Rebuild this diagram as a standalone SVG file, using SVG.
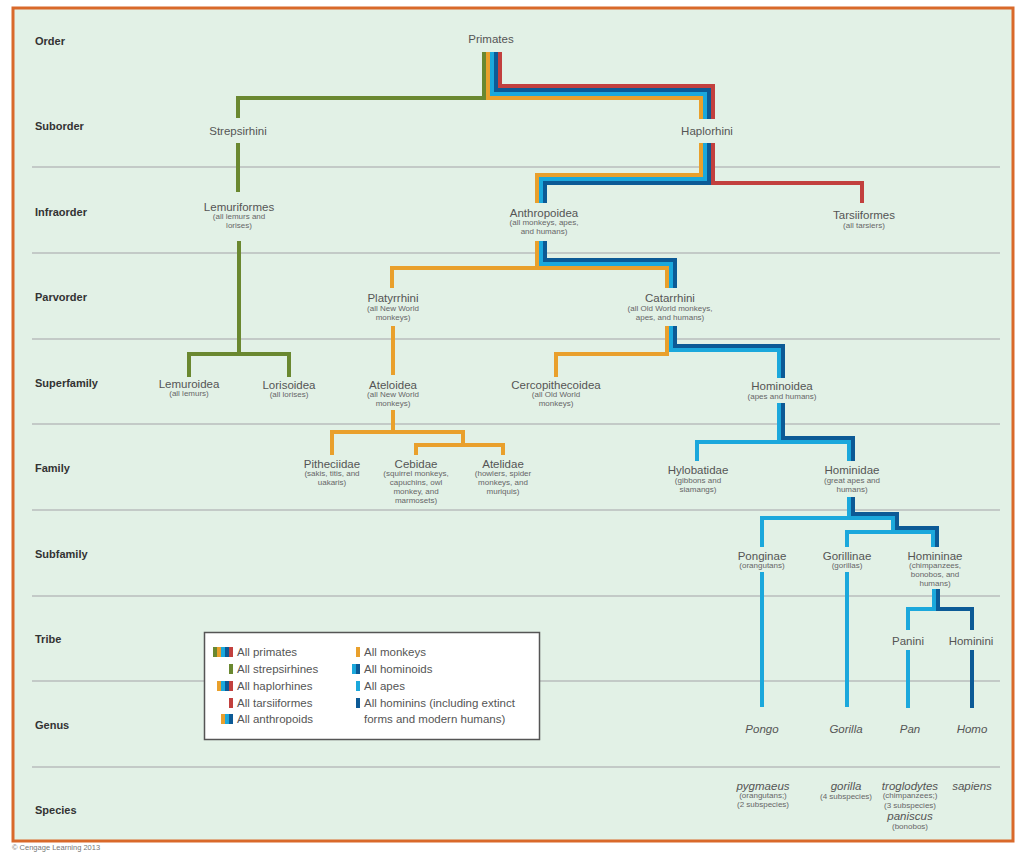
<svg xmlns="http://www.w3.org/2000/svg" width="1024" height="852" viewBox="0 0 1024 852">
<style>
text{font-family:"Liberation Sans",Arial,sans-serif;fill:#555}
.row{font-weight:bold;font-size:11px;fill:#333}
.n{font-size:11.5px;text-anchor:middle}
.s{font-size:8px;text-anchor:middle;fill:#666}
.i{font-size:11.5px;font-style:italic;text-anchor:middle}
.lg{font-size:11.5px;fill:#555}
.sep{stroke:#b9bdbd;stroke-width:1.5}
.c{fill:none;stroke-width:4;stroke-linejoin:miter;stroke-linecap:butt}
.g{stroke:#6a8830}.o{stroke:#e9a02c}.lb{stroke:#1ba8dc}.db{stroke:#0c5a96}.r{stroke:#c2403e}
</style>
<rect x="0" y="0" width="1024" height="852" fill="#fff"/>
<rect x="13" y="8" width="1000" height="833" fill="#e2f1e6" stroke="#d9692a" stroke-width="3"/>
<g id="separators">
<line class="sep" x1="32" y1="167" x2="1000" y2="167"/>
<line class="sep" x1="32" y1="253" x2="1000" y2="253"/>
<line class="sep" x1="32" y1="339" x2="1000" y2="339"/>
<line class="sep" x1="32" y1="424" x2="1000" y2="424"/>
<line class="sep" x1="32" y1="510" x2="1000" y2="510"/>
<line class="sep" x1="32" y1="596" x2="1000" y2="596"/>
<line class="sep" x1="32" y1="681" x2="1000" y2="681"/>
<line class="sep" x1="32" y1="767" x2="1000" y2="767"/>
</g>
<g id="rows">
<text class="row" x="35" y="45">Order</text>
<text class="row" x="35" y="130">Suborder</text>
<text class="row" x="35" y="216">Infraorder</text>
<text class="row" x="35" y="301">Parvorder</text>
<text class="row" x="35" y="387">Superfamily</text>
<text class="row" x="35" y="472">Family</text>
<text class="row" x="35" y="558">Subfamily</text>
<text class="row" x="35" y="643">Tribe</text>
<text class="row" x="35" y="729">Genus</text>
<text class="row" x="35" y="814">Species</text>
</g>
<g id="connectors">
<path class="c g" d="M484,52V98H238V118"/>
<path class="c o" d="M488,52V98H701V119"/>
<path class="c lb" d="M492,52V94H705V119"/>
<path class="c db" d="M496,52V90H709V119"/>
<path class="c r" d="M500,52V86H713V119"/>
<path class="c o" d="M701,143V175H537V203"/>
<path class="c lb" d="M705,143V179H541V203"/>
<path class="c db" d="M709,143V183H545V203"/>
<path class="c r" d="M713,143V183H862V203"/>
<path class="c o" d="M537,241V268M392,288V268H667V288"/>
<path class="c lb" d="M541,241V264H671V288"/>
<path class="c db" d="M545,241V260H675V288"/>
<path class="c o" d="M667,326V354H556V377"/>
<path class="c lb" d="M671,326V350H779V378"/>
<path class="c db" d="M675,326V346H783V378"/>
<path class="c g" d="M238,143V192M239,241V354M189,377V354H289V377"/>
<path class="c o" d="M393,326V375M393,410V432M332,455V432H463V445M416,455V445H503V455"/>
<path class="c lb" d="M779,403V442H697V461M779,442H849V461"/>
<path class="c db" d="M783,403V438H853V461"/>
<path class="c lb" d="M849,497V518H762V547M849,518H893V532M847,547V532H933V547"/>
<path class="c db" d="M853,497V514H897V528H937V547"/>
<path class="c lb" d="M762,572V707M847,572V707"/>
<path class="c lb" d="M934,589V609H908V630"/>
<path class="c db" d="M938,589V609H972V630"/>
<path class="c lb" d="M908,650V708"/>
<path class="c db" d="M972,650V708"/>
</g>
<g id="primates"><text class="n" x="491" y="43">Primates</text></g>
<g id="strepsirhini"><text class="n" x="238" y="135">Strepsirhini</text></g>
<g id="haplorhini"><text class="n" x="707" y="135">Haplorhini</text></g>
<g id="lemuriformes"><text class="n" x="239" y="211">Lemuriformes</text><text class="s" x="239" y="219">(all lemurs and</text><text class="s" x="239" y="228">lorises)</text></g>
<g id="anthropoidea"><text class="n" x="544" y="217">Anthropoidea</text><text class="s" x="544" y="225">(all monkeys, apes,</text><text class="s" x="544" y="234">and humans)</text></g>
<g id="tarsiiformes"><text class="n" x="864" y="219">Tarsiiformes</text><text class="s" x="864" y="228">(all tarsiers)</text></g>
<g id="platyrrhini"><text class="n" x="393" y="302">Platyrrhini</text><text class="s" x="393" y="311">(all New World</text><text class="s" x="393" y="320">monkeys)</text></g>
<g id="catarrhini"><text class="n" x="670" y="302">Catarrhini</text><text class="s" x="670" y="311">(all Old World monkeys,</text><text class="s" x="670" y="320">apes, and humans)</text></g>
<g id="lemuroidea"><text class="n" x="189" y="388">Lemuroidea</text><text class="s" x="189" y="396">(all lemurs)</text></g>
<g id="lorisoidea"><text class="n" x="289" y="389">Lorisoidea</text><text class="s" x="289" y="397">(all lorises)</text></g>
<g id="ateloidea"><text class="n" x="393" y="389">Ateloidea</text><text class="s" x="393" y="397">(all New World</text><text class="s" x="393" y="406">monkeys)</text></g>
<g id="cercopithecoidea"><text class="n" x="556" y="389">Cercopithecoidea</text><text class="s" x="556" y="397">(all Old World</text><text class="s" x="556" y="406">monkeys)</text></g>
<g id="hominoidea"><text class="n" x="782" y="390">Hominoidea</text><text class="s" x="782" y="399">(apes and humans)</text></g>
<g id="pitheciidae"><text class="n" x="332" y="468">Pitheciidae</text><text class="s" x="332" y="476">(sakis, titis, and</text><text class="s" x="332" y="485">uakaris)</text></g>
<g id="cebidae"><text class="n" x="416" y="468">Cebidae</text><text class="s" x="416" y="476">(squirrel monkeys,</text><text class="s" x="416" y="485">capuchins, owl</text><text class="s" x="416" y="494">monkey, and</text><text class="s" x="416" y="503">marmosets)</text></g>
<g id="atelidae"><text class="n" x="503" y="468">Atelidae</text><text class="s" x="503" y="476">(howlers, spider</text><text class="s" x="503" y="485">monkeys, and</text><text class="s" x="503" y="494">muriquis)</text></g>
<g id="hylobatidae"><text class="n" x="698" y="474">Hylobatidae</text><text class="s" x="698" y="483">(gibbons and</text><text class="s" x="698" y="492">siamangs)</text></g>
<g id="hominidae"><text class="n" x="852" y="474">Hominidae</text><text class="s" x="852" y="483">(great apes and</text><text class="s" x="852" y="492">humans)</text></g>
<g id="ponginae"><text class="n" x="762" y="560">Ponginae</text><text class="s" x="762" y="568">(orangutans)</text></g>
<g id="gorillinae"><text class="n" x="847" y="560">Gorillinae</text><text class="s" x="847" y="568">(gorillas)</text></g>
<g id="homininae"><text class="n" x="935" y="560">Homininae</text><text class="s" x="935" y="568">(chimpanzees,</text><text class="s" x="935" y="577">bonobos, and</text><text class="s" x="935" y="586">humans)</text></g>
<g id="panini"><text class="n" x="908" y="645">Panini</text></g>
<g id="hominini"><text class="n" x="971" y="645">Hominini</text></g>
<g id="pongo"><text class="i" x="762" y="733">Pongo</text></g>
<g id="gorilla-genus"><text class="i" x="846" y="733">Gorilla</text></g>
<g id="pan"><text class="i" x="910" y="733">Pan</text></g>
<g id="homo"><text class="i" x="972" y="733">Homo</text></g>
<g id="pygmaeus"><text class="i" x="763" y="790">pygmaeus</text><text class="s" x="763" y="798">(orangutans;)</text><text class="s" x="763" y="807">(2 subspecies)</text></g>
<g id="gorilla-species"><text class="i" x="846" y="790">gorilla</text><text class="s" x="846" y="799">(4 subspecies)</text></g>
<g id="troglodytes"><text class="i" x="910" y="790">troglodytes</text><text class="s" x="910" y="798">(chimpanzees;)</text><text class="s" x="910" y="808">(3 subspecies)</text><text class="i" x="910" y="820">paniscus</text><text class="s" x="910" y="829">(bonobos)</text></g>
<g id="sapiens"><text class="i" x="972" y="790">sapiens</text></g>
<g id="legend">
<rect x="204.5" y="632.5" width="335" height="107" fill="#fff" stroke="#555" stroke-width="1.5"/>
<rect x="213" y="647" width="4" height="10" fill="#6a8830"/><rect x="217" y="647" width="4" height="10" fill="#e9a02c"/><rect x="221" y="647" width="4" height="10" fill="#1ba8dc"/><rect x="225" y="647" width="4" height="10" fill="#0c5a96"/><rect x="229" y="647" width="4" height="10" fill="#c2403e"/>
<text class="lg" x="237" y="656">All primates</text>
<rect x="229" y="664" width="4" height="10" fill="#6a8830"/>
<text class="lg" x="237" y="673">All strepsirhines</text>
<rect x="217" y="681" width="4" height="10" fill="#e9a02c"/><rect x="221" y="681" width="4" height="10" fill="#1ba8dc"/><rect x="225" y="681" width="4" height="10" fill="#0c5a96"/><rect x="229" y="681" width="4" height="10" fill="#c2403e"/>
<text class="lg" x="237" y="690">All haplorhines</text>
<rect x="229" y="698" width="4" height="10" fill="#c2403e"/>
<text class="lg" x="237" y="707">All tarsiiformes</text>
<rect x="221" y="714" width="4" height="10" fill="#e9a02c"/><rect x="225" y="714" width="4" height="10" fill="#1ba8dc"/><rect x="229" y="714" width="4" height="10" fill="#0c5a96"/>
<text class="lg" x="237" y="723">All anthropoids</text>
<rect x="356" y="647" width="4" height="10" fill="#e9a02c"/>
<text class="lg" x="364" y="656">All monkeys</text>
<rect x="352" y="664" width="4" height="10" fill="#1ba8dc"/><rect x="356" y="664" width="4" height="10" fill="#0c5a96"/>
<text class="lg" x="364" y="673">All hominoids</text>
<rect x="356" y="681" width="4" height="10" fill="#1ba8dc"/>
<text class="lg" x="364" y="690">All apes</text>
<rect x="356" y="698" width="4" height="10" fill="#0c5a96"/>
<text class="lg" x="364" y="707">All hominins (including extinct</text>
<text class="lg" x="364" y="723">forms and modern humans)</text>
</g>
<text x="12" y="850" style="font-size:7.5px;fill:#777">© Cengage Learning 2013</text>
</svg>
